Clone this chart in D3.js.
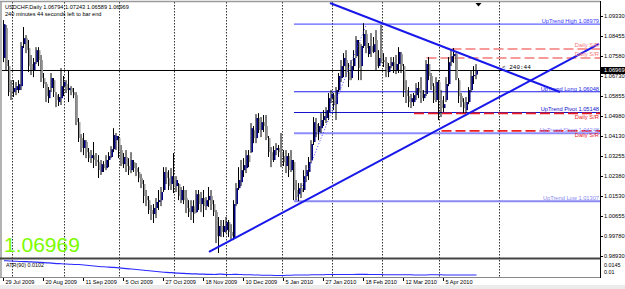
<!DOCTYPE html>
<html>
<head>
<meta charset="utf-8">
<script src="https://cdn.jsdelivr.net/npm/d3@7"></script>
<style>
  html, body { margin: 0; padding: 0; background: #fff; }
  svg { display: block; font-family: "Liberation Sans", Arial, sans-serif; }
</style>
</head>
<body>
<svg id="chart" width="625" height="289"></svg>
<script>
// USDCHF daily bars, 29 Jul 2009 .. 22 Apr 2010
const open = [1.0751,1.0881,1.0716,1.0629,1.0603,1.0612,1.0612,1.0629,1.0811,1.0837,
  1.0794,1.0725,1.0699,1.0733,1.0785,1.0742,1.0664,1.0638,1.0577,1.0621,
  1.0655,1.0590,1.0560,1.0577,1.0629,1.0638,1.0612,1.0621,1.0603,1.0590,
  1.0473,1.0404,1.0361,1.0387,1.0343,1.0317,1.0330,1.0309,1.0300,1.0257,
  1.0291,1.0274,1.0309,1.0322,1.0356,1.0395,1.0404,1.0352,1.0291,1.0322,
  1.0283,1.0265,1.0300,1.0274,1.0257,1.0231,1.0205,1.0153,1.0135,1.0092,
  1.0075,1.0101,1.0127,1.0135,1.0179,1.0257,1.0231,1.0205,1.0239,1.0196,
  1.0205,1.0135,1.0179,1.0144,1.0101,1.0083,1.0109,1.0083,1.0161,1.0118,
  1.0144,1.0109,1.0135,1.0153,1.0118,1.0083,0.9979,1.0023,0.9997,1.0005,
  1.0040,0.9997,0.9971,1.0118,1.0187,1.0213,1.0265,1.0274,1.0330,1.0343,
  1.0439,1.0404,1.0491,1.0439,1.0473,1.0456,1.0404,1.0343,1.0309,1.0352,
  1.0361,1.0343,1.0326,1.0283,1.0326,1.0265,1.0300,1.0179,1.0161,1.0187,
  1.0179,1.0239,1.0257,1.0309,1.0387,1.0465,1.0430,1.0447,1.0482,1.0491,
  1.0517,1.0577,1.0590,1.0551,1.0612,1.0664,1.0716,1.0742,1.0690,1.0664,
  1.0716,1.0759,1.0820,1.0716,1.0803,1.0855,1.0768,1.0803,1.0777,1.0829,
  1.0716,1.0785,1.0742,1.0733,1.0690,1.0716,1.0733,1.0699,1.0725,1.0768,
  1.0716,1.0612,1.0586,1.0560,1.0560,1.0590,1.0621,1.0612,1.0577,1.0595,
  1.0725,1.0673,1.0629,1.0569,1.0647,1.0569,1.0534,1.0569,1.0638,1.0733,
  1.0759,1.0768,1.0655,1.0586,1.0560,1.0525,1.0560,1.0612,1.0673,1.06794];
const high = [1.0915,1.0894,1.0742,1.0655,1.0655,1.0647,1.0655,1.0820,1.0885,1.0850,
  1.0829,1.0764,1.0751,1.0798,1.0798,1.0764,1.0686,1.0647,1.0625,1.0686,
  1.0664,1.0603,1.0595,1.0707,1.0673,1.0655,1.0699,1.0629,1.0621,1.0603,
  1.0491,1.0421,1.0426,1.0395,1.0361,1.0352,1.0387,1.0339,1.0330,1.0309,
  1.0304,1.0330,1.0343,1.0369,1.0447,1.0426,1.0413,1.0374,1.0339,1.0352,
  1.0317,1.0343,1.0309,1.0296,1.0278,1.0248,1.0222,1.0179,1.0153,1.0114,
  1.0118,1.0144,1.0179,1.0192,1.0278,1.0278,1.0265,1.0274,1.0339,1.0239,
  1.0209,1.0192,1.0196,1.0179,1.0135,1.0135,1.0135,1.0179,1.0179,1.0170,
  1.0179,1.0148,1.0192,1.0179,1.0135,1.0092,1.0062,1.0049,1.0049,1.0062,
  1.0049,1.0031,1.0135,1.0209,1.0278,1.0309,1.0317,1.0352,1.0352,1.0469,
  1.0456,1.0508,1.0512,1.0495,1.0504,1.0504,1.0413,1.0365,1.0369,1.0382,
  1.0374,1.0426,1.0352,1.0352,1.0339,1.0352,1.0309,1.0222,1.0209,1.0209,
  1.0265,1.0287,1.0322,1.0395,1.0495,1.0491,1.0469,1.0512,1.0525,1.0538,
  1.0599,1.0612,1.0599,1.0625,1.0686,1.0742,1.0772,1.0785,1.0729,1.0742,
  1.0785,1.0846,1.0829,1.0811,1.0902,1.0872,1.0816,1.0859,1.0842,1.0872,
  1.0785,1.0894,1.0772,1.0755,1.0729,1.0755,1.0755,1.0764,1.0798,1.0777,
  1.0725,1.0655,1.0625,1.0595,1.0599,1.0642,1.0647,1.0668,1.0612,1.0742,
  1.0755,1.0686,1.0642,1.0668,1.0655,1.0612,1.0586,1.0668,1.0755,1.0785,
  1.0794,1.0772,1.0664,1.0599,1.0577,1.0582,1.0625,1.0699,1.0716,1.07243];
const low = [1.0733,1.0699,1.0586,1.0569,1.0582,1.0590,1.0599,1.0612,1.0794,1.0772,
  1.0690,1.0677,1.0668,1.0725,1.0716,1.0647,1.0621,1.0560,1.0556,1.0603,
  1.0582,1.0538,1.0543,1.0547,1.0586,1.0599,1.0560,1.0590,1.0577,1.0460,
  1.0387,1.0343,1.0330,1.0317,1.0300,1.0296,1.0274,1.0283,1.0231,1.0244,
  1.0257,1.0265,1.0278,1.0317,1.0343,1.0352,1.0317,1.0283,1.0274,1.0257,
  1.0244,1.0252,1.0257,1.0239,1.0213,1.0187,1.0122,1.0109,1.0075,1.0049,
  1.0036,1.0057,1.0092,1.0109,1.0170,1.0205,1.0179,1.0179,1.0166,1.0170,
  1.0135,1.0122,1.0118,1.0079,1.0062,1.0049,1.0036,1.0079,1.0092,1.0083,
  1.0062,1.0092,1.0105,1.0092,1.0066,0.9949,0.9906,0.9975,0.9975,0.9992,
  0.9975,0.9962,0.9962,1.0109,1.0179,1.0196,1.0235,1.0252,1.0278,1.0339,
  1.0382,1.0382,1.0426,1.0408,1.0430,1.0395,1.0322,1.0278,1.0300,1.0330,
  1.0322,1.0278,1.0283,1.0252,1.0235,1.0257,1.0135,1.0135,1.0131,1.0144,
  1.0170,1.0213,1.0222,1.0296,1.0374,1.0408,1.0395,1.0426,1.0456,1.0469,
  1.0482,1.0556,1.0525,1.0482,1.0603,1.0647,1.0668,1.0668,1.0625,1.0655,
  1.0699,1.0751,1.0655,1.0655,1.0794,1.0772,1.0755,1.0755,1.0772,1.0699,
  1.0707,1.0729,1.0712,1.0668,1.0668,1.0707,1.0686,1.0681,1.0686,1.0686,
  1.0582,1.0556,1.0538,1.0534,1.0543,1.0569,1.0577,1.0556,1.0565,1.0586,
  1.0655,1.0612,1.0556,1.0560,1.0482,1.0495,1.0517,1.0560,1.0629,1.0716,
  1.0729,1.0655,1.0556,1.0538,1.0512,1.0512,1.0551,1.0603,1.0638,1.06589];
const close = [1.0898,1.0716,1.0603,1.0603,1.0621,1.0629,1.0638,1.0803,1.0837,1.0785,
  1.0716,1.0699,1.0733,1.0785,1.0742,1.0664,1.0638,1.0586,1.0612,1.0664,
  1.0603,1.0569,1.0582,1.0629,1.0647,1.0612,1.0621,1.0603,1.0590,1.0473,
  1.0404,1.0361,1.0395,1.0343,1.0317,1.0330,1.0309,1.0300,1.0265,1.0291,
  1.0274,1.0309,1.0326,1.0356,1.0417,1.0413,1.0352,1.0291,1.0322,1.0283,
  1.0265,1.0309,1.0274,1.0257,1.0231,1.0205,1.0153,1.0135,1.0092,1.0075,
  1.0101,1.0127,1.0135,1.0170,1.0257,1.0231,1.0196,1.0239,1.0196,1.0222,
  1.0153,1.0179,1.0135,1.0101,1.0083,1.0109,1.0075,1.0161,1.0118,1.0144,
  1.0109,1.0135,1.0153,1.0118,1.0083,0.9979,1.0023,0.9997,1.0023,1.0040,
  0.9997,0.9979,1.0118,1.0187,1.0222,1.0265,1.0287,1.0330,1.0300,1.0447,
  1.0404,1.0491,1.0439,1.0473,1.0456,1.0404,1.0343,1.0309,1.0352,1.0361,
  1.0343,1.0326,1.0300,1.0326,1.0265,1.0309,1.0179,1.0153,1.0187,1.0170,
  1.0239,1.0265,1.0300,1.0378,1.0473,1.0430,1.0456,1.0482,1.0499,1.0525,
  1.0577,1.0595,1.0551,1.0612,1.0673,1.0716,1.0751,1.0690,1.0655,1.0716,
  1.0751,1.0829,1.0707,1.0803,1.0855,1.0794,1.0803,1.0777,1.0811,1.0716,
  1.0751,1.0742,1.0733,1.0690,1.0716,1.0733,1.0699,1.0725,1.0777,1.0716,
  1.0612,1.0586,1.0560,1.0577,1.0590,1.0621,1.0603,1.0577,1.0595,1.0725,
  1.0673,1.0629,1.0569,1.0647,1.0569,1.0534,1.0551,1.0638,1.0733,1.0759,
  1.0768,1.0664,1.0586,1.0560,1.0534,1.0560,1.0612,1.0673,1.0677,1.06969];

// ATR(90) per bar
const atr = [0.0162,0.0162,0.0161,0.0161,0.0160,0.0160,0.0159,0.0159,0.0158,0.0158,
  0.0157,0.0157,0.0156,0.0156,0.0155,0.0155,0.0154,0.0153,0.0153,0.0152,
  0.0151,0.0150,0.0150,0.0149,0.0148,0.0148,0.0147,0.0147,0.0146,0.0146,
  0.0146,0.0145,0.0144,0.0143,0.0142,0.0141,0.0140,0.0139,0.0138,0.0137,
  0.0137,0.0136,0.0135,0.0134,0.0134,0.0133,0.0132,0.0131,0.0130,0.0129,
  0.0128,0.0127,0.0126,0.0125,0.0124,0.0123,0.0122,0.0121,0.0120,0.0119,
  0.0118,0.0117,0.0116,0.0115,0.0114,0.0113,0.0112,0.0112,0.0111,0.0110,
  0.0110,0.0109,0.0109,0.0108,0.0108,0.0107,0.0107,0.0107,0.0106,0.0106,
  0.0106,0.0105,0.0105,0.0105,0.0104,0.0105,0.0106,0.0106,0.0105,0.0104,
  0.0104,0.0104,0.0105,0.0105,0.0104,0.0104,0.0103,0.0103,0.0103,0.0103,
  0.0102,0.0102,0.0102,0.0101,0.0101,0.0101,0.0101,0.0101,0.0100,0.0100,
  0.0100,0.0100,0.0100,0.0101,0.0101,0.0101,0.0102,0.0102,0.0102,0.0102,
  0.0102,0.0102,0.0102,0.0103,0.0103,0.0103,0.0103,0.0103,0.0103,0.0104,
  0.0104,0.0104,0.0104,0.0104,0.0104,0.0104,0.0104,0.0104,0.0104,0.0104,
  0.0104,0.0105,0.0105,0.0105,0.0105,0.0105,0.0104,0.0104,0.0104,0.0104,
  0.0104,0.0104,0.0103,0.0103,0.0103,0.0103,0.0103,0.0103,0.0103,0.0103,
  0.0103,0.0103,0.0103,0.0103,0.0102,0.0102,0.0102,0.0102,0.0102,0.0102,
  0.0103,0.0103,0.0103,0.0103,0.0103,0.0103,0.0102,0.0102,0.0102,0.0102,
  0.0102,0.0102,0.0102,0.0102,0.0102,0.0102,0.0102,0.0102,0.0102,0.0102];

const dateLabels = ['29 Jul 2009', '20 Aug 2009', '11 Sep 2009', '5 Oct 2009', '27 Oct 2009', '18 Nov 2009',
  '10 Dec 2009', '5 Jan 2010', '27 Jan 2010', '18 Feb 2010', '12 Mar 2010', '5 Apr 2010'];
const dateLabelBars = [0, 16, 32, 48, 64, 80, 96, 112, 128, 144, 160, 176];
const monthGridBars = [3, 24, 46, 68, 89, 111, 131, 151, 174, 198];

const priceTicks = [1.09330, 1.08455, 1.07580, 1.06730, 1.05855, 1.04980, 1.04130,
  1.03255, 1.02380, 1.01530, 1.00655, 0.99780, 0.98930];
const atrTicks = [0.0145, 0.01];
const atrTickLabels = ['0.0145', '0.01'];

// UpTrend levels
const levelNames = ['UpTrend High', 'UpTrend Long', 'UpTrend Pivot', 'UpTrend Short', 'UpTrend Low'];
const levelValues = [1.08979, 1.06048, 1.05148, 1.04248, 1.01307];
const levelStartBar = 116;

// Daily S/R dashed levels
const srValues = [1.0790, 1.0751, 1.0511, 1.0435];
const srStartBars = [179, 169, 164, 175];

// trend lines as [bar, price] pairs
const trendUp = [[82, 0.99105], [238, 1.08117]];
const trendDown = [[130.4, 1.09893], [222.4, 1.06037]];
const zigzag = [[117, 1.0136], [145, 1.0898]];

const symbolTitle = 'USDCHF,Daily  1.06794 1.07243 1.06589 1.06969';
const timerText = '240 minutes 44 seconds left to bar end';
const lastPrice = 1.06969;
const atrTitle = 'ATR(90) 0.0102';

// ---------- drawing ----------
const svg = d3.select('#chart');
const plot = { left: 2, right: 600, top: 2, bottom: 258 };
const atrBox = { top: 260, bottom: 277 };

const x = d3.scaleLinear().domain([0, 238.4]).range([4, 600]);
const y = d3.scaleLinear().domain([0.98930, 1.09330]).range([256, 16]);
const yAtr = d3.scaleLinear().domain([0.0098, 0.0165]).range([276, 260]);

const levelColor = ['#3a3aff', '#1e1ee8', '#1414cc', '#8c8cff', '#8a8af2'];
const levelWidth = [1, 1.2, 1.2, 2, 2];
const srColor = ['#f47a7a', '#f47a7a', '#ee1c1c', '#ee1c1c'];
// upper S/R labels sit above their line, the lower two below it (keeps them off the UpTrend labels)
const srLabelBelow = [false, false, true, true];

svg.append('rect').attr('x', 0).attr('y', 285).attr('width', 625).attr('height', 4).attr('fill', '#ececec');

svg.append('defs').append('clipPath').attr('id', 'plotclip')
  .append('rect')
  .attr('x', plot.left).attr('y', plot.top)
  .attr('width', plot.right - plot.left).attr('height', plot.bottom - plot.top);

// vertical dotted month grid (main + ATR panel)
svg.selectAll('.vgrid')
  .data(monthGridBars)
  .enter().append('line')
  .attr('class', 'vgrid')
  .attr('x1', d => Math.round(x(d)) + 0.5).attr('x2', d => Math.round(x(d)) + 0.5)
  .attr('y1', plot.top).attr('y2', atrBox.bottom)
  .attr('stroke', '#333').attr('stroke-width', 1).attr('stroke-dasharray', '1.5,1.5');

const g = svg.append('g').attr('clip-path', 'url(#plotclip)');

// current price line
g.append('line')
  .attr('x1', plot.left).attr('x2', plot.right)
  .attr('y1', y(lastPrice)).attr('y2', y(lastPrice))
  .attr('stroke', '#000').attr('stroke-width', 1);

// UpTrend levels
g.selectAll('.level')
  .data(levelValues)
  .enter().append('line')
  .attr('class', 'level')
  .attr('x1', x(levelStartBar)).attr('x2', plot.right)
  .attr('y1', d => y(d)).attr('y2', d => y(d))
  .attr('stroke', (d, i) => levelColor[i]).attr('stroke-width', (d, i) => levelWidth[i]);

// Daily S/R
g.selectAll('.sr')
  .data(srValues)
  .enter().append('line')
  .attr('class', 'sr')
  .attr('x1', (d, i) => x(srStartBars[i])).attr('x2', plot.right)
  .attr('y1', d => y(d)).attr('y2', d => y(d))
  .attr('stroke', (d, i) => srColor[i]).attr('stroke-width', 1.6)
  .attr('stroke-dasharray', '10,4');

// candles
const bars = d3.range(close.length);
g.selectAll('.wick')
  .data(bars)
  .enter().append('line')
  .attr('class', 'wick')
  .attr('x1', i => x(i) - 0.5).attr('x2', i => x(i) - 0.5)
  .attr('y1', i => y(high[i])).attr('y2', i => y(low[i]))
  .attr('stroke', '#000').attr('stroke-width', 1);

g.selectAll('.body')
  .data(bars)
  .enter().append('rect')
  .attr('class', 'body')
  .attr('x', i => x(i) - 0.1)
  .attr('width', 1.6)
  .attr('y', i => y(Math.max(open[i], close[i])))
  .attr('height', i => Math.max(1, Math.abs(y(open[i]) - y(close[i]))))
  .attr('fill', i => (close[i] >= open[i] ? '#000080' : '#9c9c9c'));

// trend lines
const tl = d3.line().x(d => x(d[0])).y(d => y(d[1]));
g.append('path').datum(trendUp).attr('d', tl)
  .attr('fill', 'none').attr('stroke', '#1818ea').attr('stroke-width', 2);
g.append('path').datum(trendDown).attr('d', tl)
  .attr('fill', 'none').attr('stroke', '#1818ea').attr('stroke-width', 2);
g.append('path').datum(zigzag).attr('d', tl)
  .attr('fill', 'none').attr('stroke', '#3c3cff').attr('stroke-width', 1)
  .attr('stroke-dasharray', '1,2');

// level labels
const labelX = plot.right - 1;
g.selectAll('.lvlabel')
  .data(levelValues)
  .enter().append('text')
  .attr('class', 'lvlabel')
  .attr('x', labelX).attr('y', d => y(d) - 1.2)
  .attr('text-anchor', 'end')
  .attr('font-size', 5.7)
  .attr('fill', (d, i) => levelColor[i])
  .text((d, i) => `${levelNames[i]}  ${d.toFixed(5)}`);

g.selectAll('.srlabel')
  .data(srValues)
  .enter().append('text')
  .attr('class', 'srlabel')
  .attr('x', labelX)
  .attr('y', (d, i) => (srLabelBelow[i] ? y(d) + 6 : y(d) - 2))
  .attr('text-anchor', 'end')
  .attr('font-size', 5.8)
  .attr('fill', (d, i) => srColor[i])
  .text('Daily S/R');

// timer next to price line
g.append('text')
  .attr('x', 502).attr('y', y(lastPrice) - 1.5)
  .attr('font-family', '"Liberation Mono", monospace')
  .attr('font-size', 6)
  .attr('fill', '#000')
  .text('< 240:44');

// big last price
g.append('text')
  .attr('x', 4).attr('y', 252)
  .attr('font-size', 21)
  .attr('fill', '#7cfc00')
  .text(lastPrice.toFixed(5));

// titles
svg.append('text').attr('x', 5).attr('y', 9).attr('font-size', 5.6).attr('fill', '#000').text(symbolTitle);
svg.append('text').attr('x', 5).attr('y', 16).attr('font-size', 5.6).attr('fill', '#000').text(timerText);

// chart shift marker
const shiftX = x(189) + 2;
svg.append('path')
  .attr('d', `M${shiftX - 3},3 L${shiftX + 3},3 L${shiftX},6.5 Z`)
  .attr('fill', '#000');

// frames
svg.append('line').attr('x1', 0).attr('x2', plot.right).attr('y1', 1.5).attr('y2', 1.5)
  .attr('stroke', '#9a9a9a').attr('stroke-width', 1.5);
svg.append('line').attr('x1', 1).attr('x2', 1).attr('y1', 1).attr('y2', atrBox.bottom)
  .attr('stroke', '#9a9a9a').attr('stroke-width', 1.5);
svg.append('line').attr('x1', 0).attr('x2', plot.right).attr('y1', 258.5).attr('y2', 258.5)
  .attr('stroke', '#444').attr('stroke-width', 2);
svg.append('line').attr('x1', 0).attr('x2', plot.right).attr('y1', atrBox.bottom + 0.5).attr('y2', atrBox.bottom + 0.5)
  .attr('stroke', '#888').attr('stroke-width', 1);
svg.append('line').attr('x1', plot.right + 0.5).attr('x2', plot.right + 0.5).attr('y1', 1).attr('y2', atrBox.bottom + 1)
  .attr('stroke', '#000').attr('stroke-width', 1);

// price axis
const yAxis = svg.append('g');
yAxis.selectAll('.ptick')
  .data(priceTicks)
  .enter().append('line')
  .attr('x1', plot.right).attr('x2', plot.right + 3)
  .attr('y1', d => Math.round(y(d)) + 0.5).attr('y2', d => Math.round(y(d)) + 0.5)
  .attr('stroke', '#000');
yAxis.selectAll('.plabel')
  .data(priceTicks)
  .enter().append('text')
  .attr('x', 604).attr('y', d => y(d) + 2)
  .attr('font-size', 5.7)
  .attr('fill', '#000')
  .text(d => d.toFixed(5));

// last price box
svg.append('rect').attr('x', plot.right + 1).attr('y', y(lastPrice) - 3.5).attr('width', 24).attr('height', 7).attr('fill', '#000');
svg.append('text').attr('x', 604).attr('y', y(lastPrice) + 2).attr('font-size', 5.7).attr('fill', '#fff')
  .text(lastPrice.toFixed(5));

// ATR panel
const atrLine = d3.line().x((d, i) => x(i)).y(d => yAtr(d));
svg.append('path').datum(atr).attr('d', atrLine)
  .attr('fill', 'none').attr('stroke', '#2a2aff').attr('stroke-width', 1.1);
svg.append('text').attr('x', 6).attr('y', 267).attr('font-size', 5.4).attr('fill', '#000').text(atrTitle);
svg.selectAll('.alabel')
  .data(atrTicks)
  .enter().append('text')
  .attr('x', 604).attr('y', d => Math.min(yAtr(d) + 2, atrBox.bottom - 3))
  .attr('font-size', 5.4)
  .attr('fill', '#000')
  .text((d, i) => atrTickLabels[i]);

// time axis
svg.selectAll('.dtick')
  .data(dateLabelBars)
  .enter().append('line')
  .attr('x1', d => Math.round(x(d)) - 0.5).attr('x2', d => Math.round(x(d)) - 0.5)
  .attr('y1', atrBox.bottom + 1).attr('y2', atrBox.bottom + 4)
  .attr('stroke', '#000');
svg.selectAll('.dlabel')
  .data(dateLabels)
  .enter().append('text')
  .attr('x', (d, i) => x(dateLabelBars[i]) + 1.5)
  .attr('y', 284)
  .attr('font-size', 5.6)
  .attr('fill', '#000')
  .text(d => d);
</script>
</body>
</html>
